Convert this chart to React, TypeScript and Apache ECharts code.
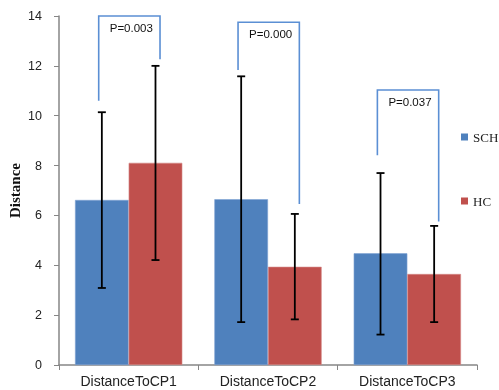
import React, { useEffect, useRef } from "react";
import * as echarts from "echarts";

const categories = ["DistanceToCP1", "DistanceToCP2", "DistanceToCP3"];
const schMeans = [6.62, 6.65, 4.48];
const hcMeans = [8.11, 3.94, 3.65];
const schErrLow = [3.09, 1.72, 1.22];
const schErrHigh = [10.14, 11.58, 7.7];
const hcErrLow = [4.21, 1.83, 1.72];
const hcErrHigh = [12.0, 6.06, 5.58];
const bracketTop = [14.0, 13.75, 11.03];
const bracketLeftEnd = [10.6, 11.83, 8.41];
const bracketRightEnd = [12.27, 6.46, 5.76];
const pLabels = ["P=0.003", "P=0.000", "P=0.037"];
const yTicks = { min: 0, max: 14, interval: 2 };

const BLUE = "#4F81BD";
const RED = "#C0504D";
const BRACKET = "#5B8FD4";

export default function App() {
  const ref = useRef<HTMLDivElement>(null);
  useEffect(() => {
    if (!ref.current) return;
    const chart = echarts.init(ref.current, undefined, { renderer: "svg" });
    const errData: any[] = [];
    categories.forEach((_, i) => {
      errData.push([i, schErrLow[i], schErrHigh[i], -1]);
      errData.push([i, hcErrLow[i], hcErrHigh[i], 1]);
    });
    const bracketData = categories.map((_, i) => [
      i,
      bracketTop[i],
      bracketLeftEnd[i],
      bracketRightEnd[i],
    ]);
    chart.setOption({
      animation: false,
      grid: {
        left: 59,
        right: 22,
        top: 16,
        bottom: 25,
        containLabel: false,
        outerBoundsMode: "none",
      },
      legend: {
        data: ["SCH", "HC"],
        orient: "vertical",
        left: 461,
        top: 130,
        itemWidth: 7,
        itemHeight: 7,
        itemGap: 50,
        icon: "rect",
        padding: 0,
        itemStyle: { borderWidth: 0 },
        textStyle: {
          fontFamily: "Liberation Serif",
          fontSize: 13,
          color: "#222",
          lineHeight: 14,
        },
        selectedMode: false,
      },
      xAxis: {
        type: "category",
        data: categories,
        axisLine: { lineStyle: { color: "#868686", width: 1.5 } },
        axisTick: { show: true, length: 5, lineStyle: { color: "#868686" } },
        axisLabel: {
          fontFamily: "Liberation Sans",
          fontSize: 14,
          color: "#222",
          margin: 9,
        },
      },
      yAxis: {
        type: "value",
        min: yTicks.min,
        max: yTicks.max,
        interval: yTicks.interval,
        name: "Distance",
        nameLocation: "middle",
        nameRotate: 90,
        nameGap: 37,
        nameMoveOverlap: false,
        nameTextStyle: {
          fontFamily: "Liberation Serif",
          fontWeight: "bold",
          fontSize: 15,
          color: "#111",
        },
        splitLine: { show: false },
        axisLine: { show: true, lineStyle: { color: "#868686", width: 1.5 } },
        axisTick: { show: true, length: 5, lineStyle: { color: "#868686" } },
        axisLabel: {
          fontFamily: "Liberation Sans",
          fontSize: 12.5,
          color: "#222",
          margin: 17,
        },
      },
      series: [
        {
          name: "SCH",
          type: "bar",
          data: schMeans,
          barGap: "0%",
          barCategoryGap: "23%",
          itemStyle: { color: BLUE, borderColor: "#7fa3d3", borderWidth: 0.6 },
        },
        {
          name: "HC",
          type: "bar",
          data: hcMeans,
          barGap: "0%",
          barCategoryGap: "23%",
          itemStyle: { color: RED, borderColor: "#d58a88", borderWidth: 0.6 },
        },
        {
          type: "custom",
          name: "err",
          data: errData,
          z: 10,
          clip: false,
          renderItem: (params: any, api: any) => {
            const c = api.value(0);
            const lo = api.coord([c, api.value(1)]);
            const hi = api.coord([c, api.value(2)]);
            const w = api.size([1, 0])[0];
            const x = lo[0] + api.value(3) * w * 0.1925;
            const cap = 4;
            const st = { stroke: "#000", lineWidth: 1.8 };
            return {
              type: "group",
              children: [
                { type: "line", shape: { x1: x, y1: lo[1], x2: x, y2: hi[1] }, style: st },
                { type: "line", shape: { x1: x - cap, y1: lo[1], x2: x + cap, y2: lo[1] }, style: st },
                { type: "line", shape: { x1: x - cap, y1: hi[1], x2: x + cap, y2: hi[1] }, style: st },
              ],
            };
          },
        },
        {
          type: "custom",
          name: "brackets",
          data: bracketData,
          z: 11,
          clip: false,
          renderItem: (params: any, api: any) => {
            const c = api.value(0);
            const top = api.coord([c, api.value(1)]);
            const l = api.coord([c, api.value(2)]);
            const r = api.coord([c, api.value(3)]);
            const w = api.size([1, 0])[0];
            const xl = top[0] - w * 0.215;
            const xr = top[0] + w * 0.225;
            return {
              type: "group",
              children: [
                {
                  type: "polyline",
                  shape: {
                    points: [
                      [xl, l[1]],
                      [xl, top[1]],
                      [xr, top[1]],
                      [xr, r[1]],
                    ],
                  },
                  style: { stroke: BRACKET, lineWidth: 1.6, fill: "none" },
                },
                {
                  type: "text",
                  x: xl + 11,
                  y: top[1] + 12,
                  style: {
                    text: pLabels[params.dataIndex],
                    fontFamily: "Liberation Sans",
                    fontSize: 11.5,
                    fill: "#111",
                    textAlign: "left",
                    textVerticalAlign: "middle",
                  },
                },
              ],
            };
          },
        },
      ],
    });
    return () => chart.dispose();
  }, []);
  return (
    <div
      ref={ref}
      style={{ position: "fixed", left: 0, top: 0, width: 499, height: 390 }}
    />
  );
}
